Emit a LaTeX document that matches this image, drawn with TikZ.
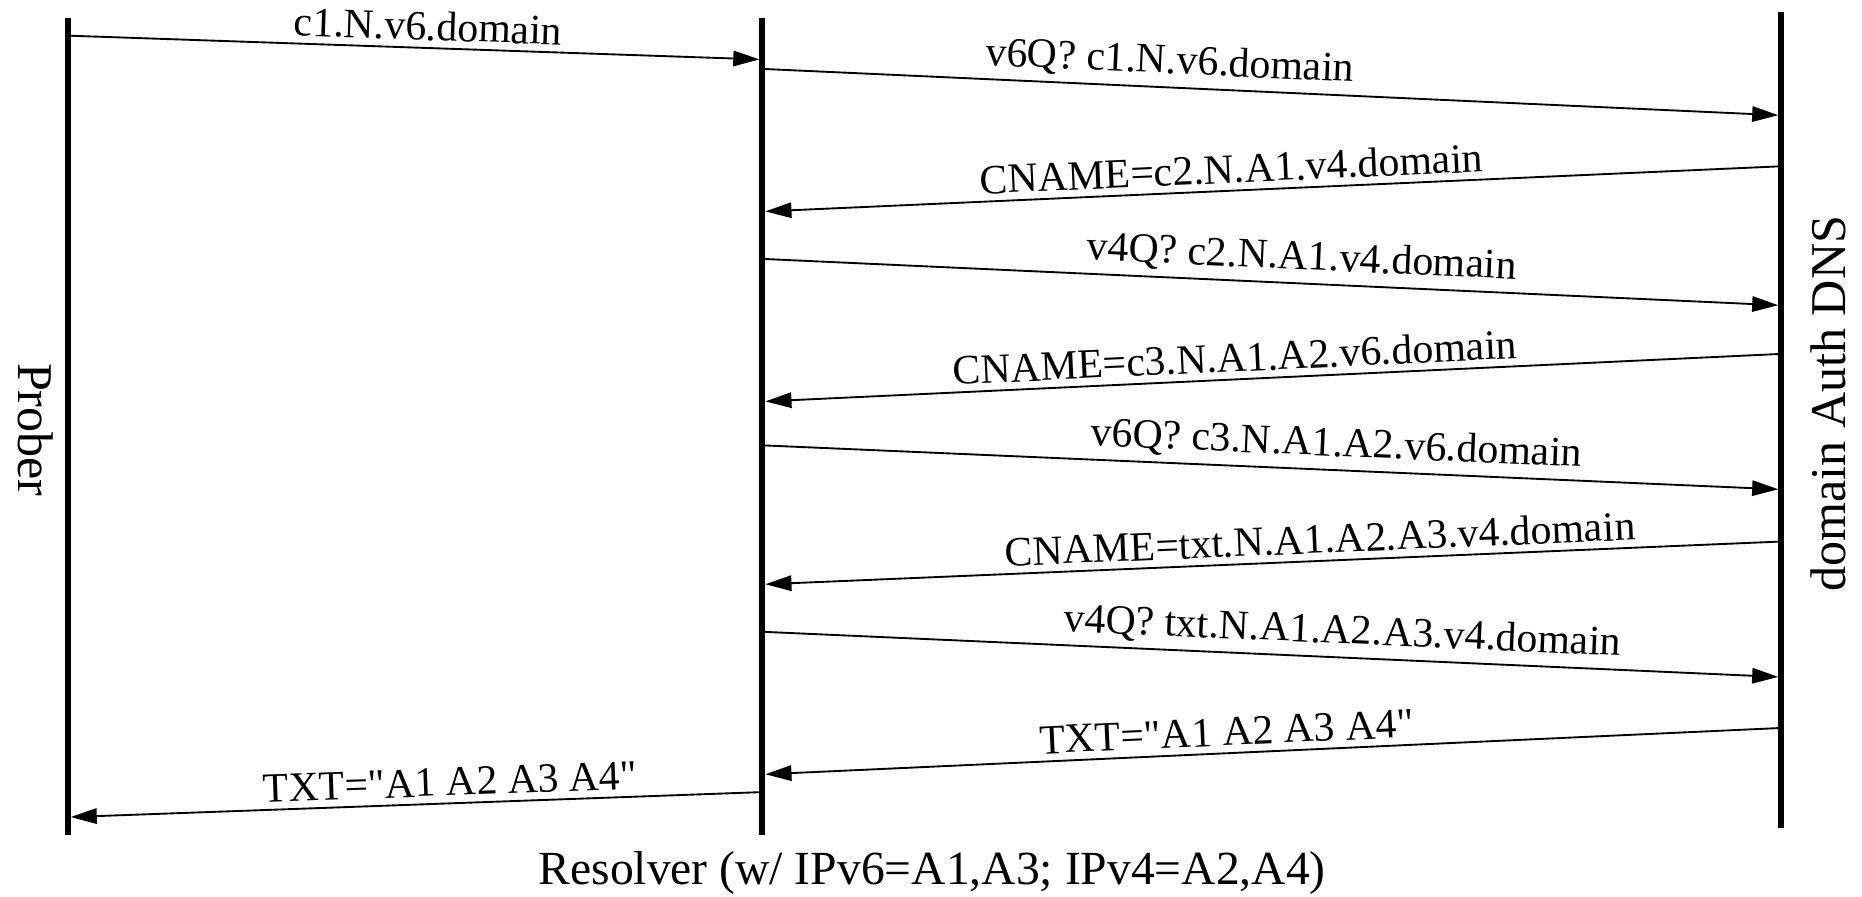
\documentclass[tikz,border=0pt]{standalone}
\usepackage{fontspec}
\setmainfont{Liberation Serif}
\usetikzlibrary{arrows.meta}

\begin{document}
\begin{tikzpicture}[
    lifeline/.style={line width=1.4pt},
    msg/.style={-{Triangle[length=2.2mm,width=1.3mm]}, line width=0.45pt},
    lbl/.style={above, sloped, inner sep=1.5pt, font=\fontsize{10}{12}\selectfont},
    actor/.style={inner sep=0pt, font=\fontsize{12}{14}\selectfont}
]
    \useasboundingbox (0,0) rectangle (15.68,-7.55);

    % lifelines
    \coordinate (proberTop) at (0.57,-0.15);
    \coordinate (proberBot) at (0.57,-7.03);
    \coordinate (resolverTop) at (6.42,-0.15);
    \coordinate (resolverBot) at (6.42,-7.03);
    \coordinate (authTop) at (15.00,-0.10);
    \coordinate (authBot) at (15.00,-6.97);
    \draw[lifeline] (proberTop) -- (proberBot);
    \draw[lifeline] (resolverTop) -- (resolverBot);
    \draw[lifeline] (authTop) -- (authBot);

    \node[actor, rotate=-90] (prober) at (0.30,-3.62) {Prober};
    \node[actor, rotate=90] (auth) at (15.40,-3.40) {domain Auth DNS};
    \node[actor, font=\fontsize{11.4}{13}\selectfont] (resolver) at (7.85,-7.35) {Resolver (w/ IPv6=A1,A3; IPv4=A2,A4)};

    % message end points
    \coordinate (m1s) at (0.57,-0.30);   \coordinate (m1e) at (6.395,-0.50);
    \coordinate (m2s) at (6.42,-0.58);   \coordinate (m2e) at (14.975,-0.97);
    \coordinate (m3s) at (15.00,-1.40);  \coordinate (m3e) at (6.445,-1.78);
    \coordinate (m4s) at (6.42,-2.18);   \coordinate (m4e) at (14.975,-2.57);
    \coordinate (m5s) at (15.00,-2.98);  \coordinate (m5e) at (6.445,-3.38);
    \coordinate (m6s) at (6.42,-3.75);   \coordinate (m6e) at (14.975,-4.12);
    \coordinate (m7s) at (15.00,-4.56);  \coordinate (m7e) at (6.445,-4.92);
    \coordinate (m8s) at (6.42,-5.32);   \coordinate (m8e) at (14.975,-5.70);
    \coordinate (m9s) at (15.00,-6.13);  \coordinate (m9e) at (6.445,-6.52);
    \coordinate (m10s) at (6.42,-6.67);  \coordinate (m10e) at (0.595,-6.88);

    % messages
    \draw[msg] (m1s) -- node[lbl, pos=0.52] {c1.N.v6.domain} (m1e);
    \draw[msg] (m2s) -- node[lbl, pos=0.40] {v6Q? c1.N.v6.domain} (m2e);
    \draw[msg] (m3s) -- node[lbl, pos=0.54] {CNAME=c2.N.A1.v4.domain} (m3e);
    \draw[msg] (m4s) -- node[lbl, pos=0.53] {v4Q? c2.N.A1.v4.domain} (m4e);
    \draw[msg] (m5s) -- node[lbl, pos=0.537] {CNAME=c3.N.A1.A2.v6.domain} (m5e);
    \draw[msg] (m6s) -- node[lbl, pos=0.564] {v6Q? c3.N.A1.A2.v6.domain} (m6e);
    \draw[msg] (m7s) -- node[lbl, pos=0.453] {CNAME=txt.N.A1.A2.A3.v4.domain} (m7e);
    \draw[msg] (m8s) -- node[lbl, pos=0.57] {v4Q? txt.N.A1.A2.A3.v4.domain} (m8e);
    \draw[msg] (m9s) -- node[lbl, pos=0.545] {TXT=\textquotedbl A1 A2 A3 A4\textquotedbl} (m9e);
    \draw[msg] (m10s) -- node[lbl, pos=0.45] {TXT=\textquotedbl A1 A2 A3 A4\textquotedbl} (m10e);
\end{tikzpicture}
\end{document}
